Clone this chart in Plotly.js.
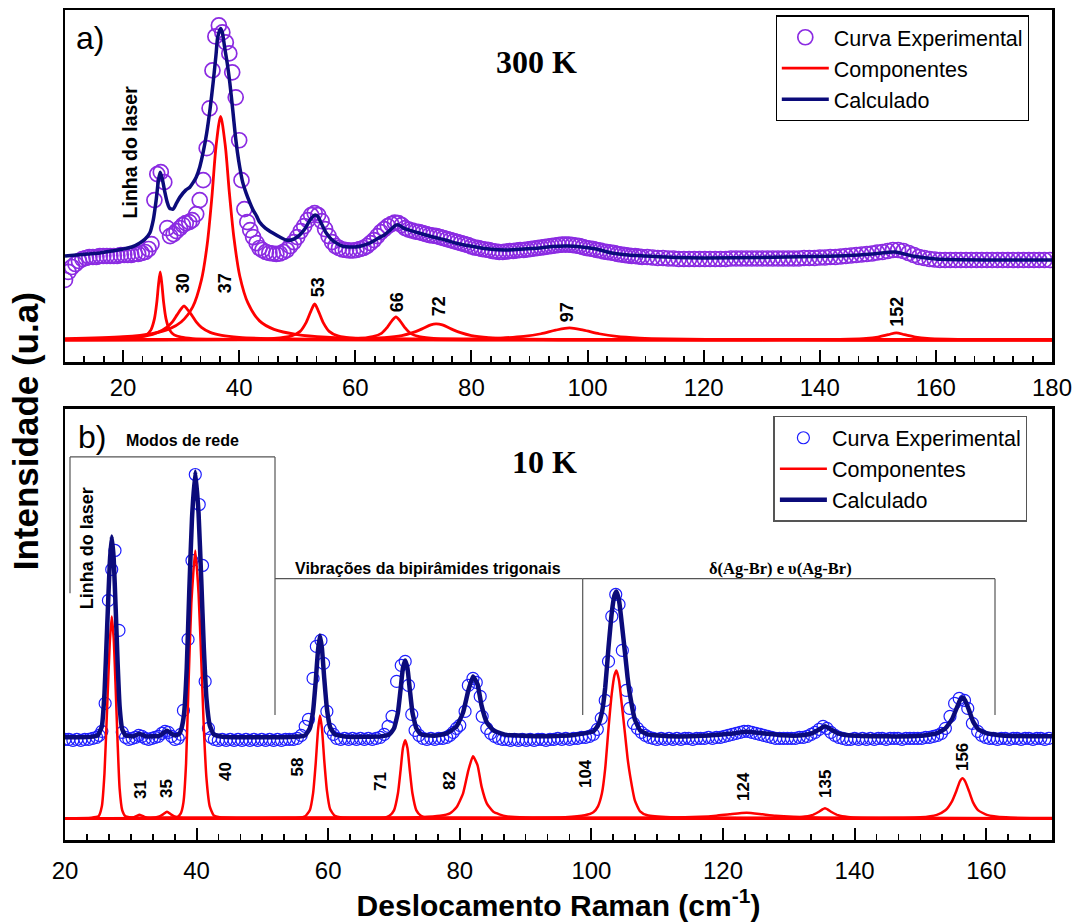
<!DOCTYPE html>
<html>
<head>
<meta charset="utf-8">
<script src="https://cdn.plot.ly/plotly-3.0.1.min.js"></script>
<style>html,body{margin:0;padding:0;background:#fff;}</style>
</head>
<body>
<div id="chart" style="width:1081px;height:922px;"></div>
<script>
// ---------------- DATA (arbitrary intensity units) ----------------
// (a) 300 K : experimental curve
const topExpX = [10.0,10.6,11.2,11.8,12.4,13.0,13.6,14.2,14.8,15.4,16.0,16.6,17.2,17.8,18.4,19.0,19.6,20.2,20.8,21.4,22.0,22.6,23.2,23.8,24.4,
 24.9,25.4,25.9,26.5,27.1,27.6,28.1,28.7,29.2,29.8,30.3,30.8,31.4,31.9,32.6,33.2,33.8,34.4,34.9,35.4,35.9,36.5,37.1,37.7,38.3,38.8,39.4,40.0,40.4,40.9,41.4,41.9,42.4,43.0,43.5,44.0,
 44.6,45.2,45.8,46.4,47.0,47.6,48.2,48.8,49.4,50.0,50.6,51.2,51.8,52.4,53.0,53.6,54.2,54.8,55.4,56.0,56.6,57.2,57.8,58.4,59.0,59.6,60.2,60.8,61.4,62.0,62.6,63.2,63.8,64.4,65.0,65.6,66.2,66.8,67.4,68.0,68.6,69.2,69.8,70.4,71.0,71.6,72.2,72.8,73.4,74.0,74.6,75.2,75.8,76.4,77.0,77.6,78.2,78.8,79.4,80.0,80.6,81.2,81.8,82.4,83.0,83.6,84.2,84.8,85.4,86.0,86.6,87.2,87.8,88.4,89.0,89.6,90.2,90.8,91.4,92.0,92.6,93.2,93.8,94.4,95.0,95.6,96.2,96.8,97.4,98.0,98.6,99.2,99.8,100.4,101.0,101.6,102.2,102.8,103.4,104.0,104.6,105.2,105.8,106.4,107.0,107.6,108.2,108.8,109.4,
 110.3,111.2,112.1,113.0,113.9,114.8,115.7,116.6,117.5,118.4,119.3,120.2,121.1,122.0,122.9,123.8,124.7,125.6,126.5,127.4,128.3,129.2,130.1,131.0,131.9,132.8,133.7,134.6,135.5,136.4,137.3,138.2,139.1,140.0,140.9,141.8,142.7,143.6,144.5,145.4,146.3,147.2,148.1,149.0,149.9,150.8,151.7,152.6,153.5,154.4,155.3,156.2,157.1,158.0,158.9,159.8,160.7,161.6,162.5,163.4,164.3,165.2,166.1,167.0,167.9,168.8,169.7,170.6,171.5,172.4,173.3,174.2,175.1,176.0,176.9,177.8,178.7,179.6];
const topExpY = [60,68,73,76,79,81,82,83,83,83,84,84,84,84,84,84,85,85,85,85,86,86,87,88,91,
 96,140,166,168,158,112,104,106,109,112,115,117,118,120,126,140,160,192,232,270,304,315,308,298,287,268,243,200,160,131,118,110,103,97,92,90,
 88,87,86.5,86,86.5,88,90,94,98,103,109,114,120,125,127,125,119,111,104,98,94,92,90.5,90,89.5,89.5,90,91,92,94,97,100,104,108,111,114,116,117.5,117,115,112,110.5,109.5,108.5,108,107,106,105,104.5,104,103,102,101,100,99,98,97,96,95,93.5,92.5,92,91,90.5,90,89,88.5,88,88,88.5,89,89,89.5,90,90,90.5,91,91.5,92,92.5,93,93.5,94,94.5,95,95.5,95.5,95.5,95,94.5,94,93,92,91.5,91,90,89.5,88.5,88,87.5,87,86,85.5,85,84.5,84,84,83.5,83,
 83,82.5,82,82,81.5,81.5,81,81,81,81,81,81,81,81,81,81,81.5,81.5,81.5,81.5,81.5,81.5,81.5,81.5,81.5,81.5,81.5,81.5,81.5,81.5,82,82,82,82.5,82.5,83,83,83.5,84,84.5,85,85.5,86,86.5,87.5,88,89,90,90,89,87,85,83,82,81,80.5,80,80,80,80,80,80,80,80,80,80,80,80,80,80,80,80,80,80,80,80,80,80];
// (a) 300 K : calculated curve
const topCalcX = [10,12,14,16,18,20,21.5,22.9,23.8,24.6,25.2,25.7,26.1,26.4,26.8,27.2,27.6,28.0,28.6,29.2,29.8,30.8,31.5,32.0,32.6,33.2,33.8,34.4,35.0,35.5,36.0,36.3,36.8,37.1,37.5,38.0,38.4,38.9,39.3,39.7,40.1,40.6,41.2,41.8,42.4,43.0,43.5,44.5,45.8,47.0,48.1,49.0,50.4,51.3,52.2,53.0,53.5,54.2,55.0,56.0,57.0,58.0,59.0,60.0,61.0,62.5,64.0,65.0,66.0,67.0,67.5,68.3,69.3,71.0,73.4,75.5,78.0,80.8,83.0,86.0,89.0,91.7,94.0,96.5,99.0,101.5,104.2,107,110,115,120,130,138.8,145,149,153,156,160,170,180];
const topCalcY = [84,85,86,87,89,91,93,97,101,107,120,140,160,168,160,148,138,132,131,137,143,150,153,157,163,173,188,207,232,257,285,303,312,308,293,275,257,230,207,188,173,158,147,138,130,124,118,112,107,103,100,100,105,111,120,125,124,116,107,100,96,93.5,93,93,94,97,102,105,110,115,115,112,110,107,103,100,96,93,91,90,91,92,93.5,94,93,91,87,85,84,82.5,82,82.5,83.5,84.5,86,88,84,81,80,80];
// (a) 300 K : fitted components (peak positions 26, 30, 37, 53, 66, 72, 97, 152 cm-1)
const topLaserX = [10,16,20,22.5,24,24.8,25.4,25.8,26.1,26.4,26.7,27.0,27.4,28.0,28.8,30,32,36,45,70,180];
const topLaserY = [0.2,0.6,1.3,2.6,5,10,21,37,55,68,55,37,21,10,5,2.6,1.3,0.6,0.2,0.05,0];
const top30X = [10,18,22,24,26,27.5,28.5,29.3,30,30.5,31,31.8,32.6,33.5,35,37,40,45,55,80,180];
const top30Y = [0.5,1.2,2.5,4,7.5,12.5,18,25,31,34,31,25,18,12.5,7.5,4.5,2.5,1.3,0.5,0.1,0];
const top37X = [10,20,25,28,30,32,33.5,34.5,35.3,36,36.8,37.6,38.3,39.1,40.1,41.5,43.5,46,50,55,65,80,180];
const top37Y = [1.2,3.1,6.3,11,17.8,33,60,96,143,193,224,195,148,102,64,37,19,10.5,5.3,2.7,1.1,0.5,0];
const top53X = [10,30,40,46,49,50.5,51.5,52.3,53,53.7,54.5,55.5,57,60,66,80,180];
const top53Y = [0.1,0.3,0.5,1.4,3.9,8.5,17,28,36,28,17,8.5,3.9,1.4,0.5,0.15,0];
const top66X = [10,40,55,60,63,64.5,65.5,66.3,67,67.7,68.5,69.5,71,74,80,95,180];
const top66Y = [0,0.2,0.6,1.1,3.2,6.5,12.5,19,23,19,12.5,6.5,3.2,1.1,0.4,0.1,0];
const top72X = [10,40,50,60,65,68,70,71.5,73,73.9,75,76.5,78,80,83,88,100,120,180];
const top72Y = [0.1,0.2,0.4,0.9,2.2,4.3,7.5,11,15,16,15,11,7.5,4.3,2.2,0.9,0.3,0.1,0];
const top97X = [10,50,70,80,85,89,92,94.5,96.9,99.3,102,105,109,114,125,145,180];
const top97Y = [0,0.15,0.4,1.0,1.8,3.4,6.1,9.7,12,9.7,6.1,3.4,1.8,1.0,0.35,0.1,0];
const top152X = [10,100,130,140,145,148,150,151.8,153.2,154.6,156.5,158.5,162,168,180];
const top152Y = [0,0.05,0.1,0.3,0.6,1.4,2.8,5.2,7,5.2,2.8,1.4,0.6,0.3,0.1];

// (b) 10 K : experimental curve
const botExpX = [20.0,20.6,21.2,21.8,22.4,23.0,23.6,24.2,24.8,25.2,25.6,26.1,26.6,27.1,27.6,28.2,28.7,29.2,29.7,30.2,30.7,31.2,31.7,32.2,32.7,33.2,33.7,34.2,34.7,35.2,35.7,36.2,36.7,37.2,37.6,38.0,38.7,39.3,39.8,40.4,40.9,41.3,41.8,42.2,42.7,43.3,43.9,44.5,45.1,45.7,46.3,46.9,47.5,48.1,48.7,49.3,49.9,50.5,51.1,51.7,52.3,52.9,53.5,54.1,54.7,55.3,55.9,56.5,57.0,57.7,58.2,58.9,59.3,59.8,60.3,60.8,61.3,61.9,62.5,63.1,63.7,64.3,64.9,65.5,66.1,66.7,67.3,67.9,68.5,69.1,69.7,70.4,71.1,71.7,72.2,72.7,73.2,73.8,74.4,75.0,75.6,76.2,76.8,77.4,78.0,78.5,79.0,79.5,80.0,80.8,81.3,82.0,82.5,83.1,83.4,84.1,84.7,85.3,85.9,86.5,87.1,87.7,88.3,88.9,89.5,90.1,90.7,91.3,91.9,92.5,93.1,93.7,94.3,94.9,95.5,96.1,96.7,97.3,97.9,98.5,99.1,99.7,100.3,100.9,101.5,102.1,102.6,103.1,103.7,104.2,104.7,105.3,105.8,106.4,107.0,107.6,108.2,108.8,109.4,110.0,110.6,111.2,111.8,112.4,113.0,113.6,114.2,114.8,115.4,116.0,116.6,117.2,117.8,118.4,119.0,119.6,120.2,120.8,121.4,122.0,122.6,123.2,123.8,124.4,125.0,125.6,126.2,126.8,127.4,128.0,128.6,129.2,129.8,130.4,131.0,131.6,132.2,132.8,133.4,134.0,134.6,135.2,135.8,136.4,137.0,137.6,138.2,138.8,139.4,140.0,140.6,141.2,141.8,142.4,143.0,143.6,144.2,144.8,145.4,146.0,146.6,147.2,147.8,148.4,149.0,149.6,150.2,150.8,151.4,152.0,152.6,153.2,153.8,154.5,155.2,155.9,156.7,157.2,157.9,158.7,159.3,159.9,160.5,161.1,161.7,162.3,162.9,163.5,164.1,164.7,165.3,165.9,166.5,167.1,167.7,168.3,168.9,169.5];
const botExpY = [79,79,78,79,78,79,79,80,81,83,87,115,218,249,268,188,86,81,79,80,81,83,82,80,79,80,81,82,85,87,86,82,79,80,84,108,179,258,344,314,253,137,90,81,79,78,79,78,79,78,79,78,79,78,79,78,79,78,79,78,79,78,79,79,79,80,83,92,99,140,172,178,155,107,89,84,80,79,80,79,80,79,80,79,80,79,80,81,84,92,102,137,153,157,133,104,88,83,80,79,80,79,80,80,81,83,86,90,93,107,133,140,136,122,102,90,85,82,80,79,79,78,79,78,79,78,79,78,79,79,78,79,79,80,79,80,79,80,80,81,81,82,84,89,100,118,157,202,224,214,168,128,110,95,90,86,83,81,80,79,80,79,80,79,80,79,80,80,79,80,80,80,81,80,81,81,82,83,84,85,86,87,87,86,85,84,83,82,81,80,80,80,80,80,80,81,81,82,84,86,89,92,90,86,83,81,80,79,79,80,79,80,79,80,79,80,80,79,80,80,80,79,80,80,80,80,80,81,81,82,83,85,90,102,115,120,118,110,95,87,83,81,80,80,79,80,80,79,80,80,79,80,80,79,80,80,79,80];
// (b) 10 K : calculated curve
const botCalcX = [20,24,25.0,25.6,26.0,26.4,26.8,27.1,27.4,27.7,28.0,28.3,28.7,29.2,30.3,31.3,32.3,34.3,35.5,36.6,37.3,37.7,38.1,38.5,38.9,39.3,39.8,40.3,40.7,41.1,41.5,42.0,42.6,44,50,55,56.5,57.2,57.7,58.1,58.45,58.75,59.05,59.4,59.8,60.3,61.0,63,68,69.3,70.0,70.6,71.0,71.35,71.7,72.05,72.4,72.8,73.4,74.1,76,78,79.5,80.5,81.3,82.0,82.7,83.3,84.1,85.1,87,92,97,100.3,101.0,101.6,102.1,102.6,103.1,103.5,103.8,104.2,104.6,105.1,105.5,105.9,106.6,107.4,108.5,112,117,121,123.6,126,129,132,133.5,134.5,135.5,136.5,137.5,139,145,150,152.5,153.8,154.8,155.5,156.0,156.4,156.8,157.4,158.0,158.8,160.1,163,170];
const botCalcY = [81,81.5,83,92,125,190,255,282,260,210,155,112,89,83,82,84.5,82,82.5,87.5,83,84,90,105,150,230,300,347,305,240,170,120,93,84,81.5,81,81.5,83,90,107,137,168,183,170,140,110,91,84,81.5,82,84,90,106,129,150,158,150,129,106,90,84,82.5,85,92,106,128,142,134,113,96,88,83.5,82,83,87,93,106,131,171,206,223,227,218,196,166,141,122,99,88,84,82,82.5,84.5,86.5,85,83,83,85,88.5,92,88.5,85,83,82,82.5,85,90,99,110,118,121,118,108,97,89,85,82.5,82];
// (b) 10 K : fitted components (27, 31, 35, 40, 58, 71, 82, 104, 124, 135, 156 cm-1)
const botLaserX = [20,24,25.1,25.6,26.0,26.4,26.8,27.1,27.4,27.7,28.0,28.3,28.7,29.2,31,170];
const botLaserY = [0,0.5,2,12,45,110,175,202,180,130,75,30,8,2,0.5,0];
const bot31X = [20,29.5,30.5,31.0,31.3,31.7,32.2,33,170];
const bot31Y = [0,0.3,1.2,2.6,3.5,2.6,1.1,0.3,0];
const bot35X = [20,33,34.2,34.9,35.5,36.1,36.8,38,170];
const bot35Y = [0,0.3,1.5,4,6.6,4,1.5,0.3,0];
const bot40X = [20,36,37.0,37.6,38.0,38.4,38.8,39.2,39.8,40.3,40.7,41.1,41.5,42.0,42.6,43.5,46,170];
const bot40Y = [0,0.5,1,5,16,55,140,215,268,225,160,90,40,12,3,1,0.3,0];
const bot58X = [20,54,55.5,56.5,57.2,57.7,58.1,58.45,58.75,59.05,59.4,59.8,60.3,61.0,62,64,170];
const bot58Y = [0,0.2,0.5,2,8,25,55,88,103,90,58,28,9,2.5,0.7,0.2,0];
const bot71X = [20,66,68.5,69.3,70.0,70.6,71.0,71.35,71.7,72.05,72.4,72.8,73.4,74.1,75,77,170];
const bot71Y = [0,0.2,0.5,2.5,8,25,48,70,78,70,48,25,8,2.5,0.6,0.2,0];
const bot82X = [20,70,74,77,78.5,79.5,80.5,81.3,82.0,82.7,83.3,84.1,85.1,87,90,95,170];
const bot82Y = [0,0.3,1,2.5,5,11,25,48,62,53,32,15,6.5,2,0.7,0.3,0];
const bot104X = [20,90,96,99,100.3,101.0,101.6,102.1,102.6,103.1,103.5,103.8,104.2,104.6,105.1,105.5,105.9,106.6,107.4,108.5,112,120,170];
const bot104Y = [0,0.4,1,3,6,12,25,50,90,125,143,148,138,115,85,60,42,18,7,3,1,0.3,0];
const bot124X = [20,105,112,116.5,119,121,123.6,126,128,130.7,135,145,170];
const bot124Y = [0,0.2,0.6,1.5,2.6,4,5.6,4,2.6,1.5,0.6,0.2,0];
const bot135X = [20,125,130,132,133.5,134.5,135.5,136.5,137.5,139,141,146,170];
const bot135Y = [0,0.2,0.5,1.2,3,6.3,10,6.3,3,1.2,0.5,0.2,0];
const bot156X = [20,140,150,152.5,153.8,154.8,155.5,156.0,156.4,156.8,157.4,158.0,158.8,160.1,163,170];
const bot156Y = [0,0.3,1,3.5,8,17,28,37,40,37,27,16,8,3.5,1,0.3];

// labels
const legendNames = ['Curva Experimental', 'Componentes', 'Calculado'];
const topPeakLabels = ['30','37','53','66','72','97','152'];
const botPeakLabels = ['31','35','40','58','71','82','104','124','135','156'];
const xTickVals = [20,40,60,80,100,120,140,160,180];

// ---------------- STYLE / LAYOUT ----------------
const SANS = "'Liberation Sans', Arial, sans-serif";
const SERIF = "'Liberation Serif', 'Times New Roman', serif";
const L = 65, R = 1052, T = 9.5, B = 840;
const px = x => (x - L) / (R - L);
const py = y => (B - y) / (B - T);

const topComps = [[topLaserX,topLaserY],[top30X,top30Y],[top37X,top37Y],[top53X,top53Y],[top66X,top66Y],[top72X,top72Y],[top97X,top97Y],[top152X,top152Y]];
const botComps = [[botLaserX,botLaserY],[bot31X,bot31Y],[bot35X,bot35Y],[bot40X,bot40Y],[bot58X,bot58Y],[bot71X,bot71Y],[bot82X,bot82Y],[bot104X,bot104Y],[bot124X,bot124Y],[bot135X,bot135Y],[bot156X,bot156Y]];

const traces = [];
traces.push({x: topExpX, y: topExpY, xaxis:'x', yaxis:'y', legend:'legend', name: legendNames[0], mode:'markers', type:'scatter',
  marker:{symbol:'circle-open', size:15, color:'#8B2BE2', line:{width:1.7, color:'#8B2BE2'}}});
topComps.forEach((c,i) => traces.push({x:c[0], y:c[1], xaxis:'x', yaxis:'y', legend:'legend', name: legendNames[1], showlegend: i===0,
  mode:'lines', type:'scatter', line:{color:'#FF0000', width:2.8, shape:'spline', smoothing:0.8}}));
traces.push({x: topCalcX, y: topCalcY, xaxis:'x', yaxis:'y', legend:'legend', name: legendNames[2], mode:'lines', type:'scatter',
  line:{color:'#0B0B7A', width:3.5, shape:'spline', smoothing:0.7}});

traces.push({x: botExpX, y: botExpY, xaxis:'x2', yaxis:'y2', legend:'legend2', name: legendNames[0], mode:'markers', type:'scatter',
  marker:{symbol:'circle-open', size:12, color:'#1E1EFF', line:{width:1.2, color:'#1E1EFF'}}});
botComps.forEach((c,i) => traces.push({x:c[0], y:c[1], xaxis:'x2', yaxis:'y2', legend:'legend2', name: legendNames[1], showlegend: i===0,
  mode:'lines', type:'scatter', line:{color:'#FF0000', width:2.5, shape:'spline', smoothing:0.5}}));
traces.push({x: botCalcX, y: botCalcY, xaxis:'x2', yaxis:'y2', legend:'legend2', name: legendNames[2], mode:'lines', type:'scatter',
  line:{color:'#0B0B7A', width:4.5, shape:'spline', smoothing:0.4}});

const xAxisStyle = {
  showgrid:false, zeroline:false, showline:true, linecolor:'#000', linewidth:2.5, mirror:true,
  ticks:'inside', ticklen:12, tickwidth:2, tickcolor:'#000', tickvals: xTickVals,
  minor:{dtick:20/6, tick0:0, ticks:'inside', ticklen:6, tickwidth:1.8, tickcolor:'#000'},
  tickfont:{family:SANS, size:24, color:'#000'}
};
const yAxisStyle = {showgrid:false, zeroline:false, showline:true, linecolor:'#000', linewidth:2.5, mirror:true,
  ticks:'', showticklabels:false};

const ann = [];
function addText(text, x, y, size, opts) {
  ann.push(Object.assign({text:text, x:px(x), y:py(y), xref:'paper', yref:'paper', showarrow:false,
    xanchor:'center', yanchor:'middle', font:{family:SANS, size:size, color:'#000'}}, opts || {}));
}
addText('a)', 90, 38, 32);
addText('<b>300 K</b>', 536, 62, 32, {font:{family:SERIF, size:32, color:'#000'}});
addText('<b>Linha do laser</b>', 130, 152, 19.5, {textangle:-90});
const topLabelPos = [[183,283],[225,283],[318,287],[397,302],[439,306],[567,312],[897.5,312]];
topPeakLabels.forEach((t,i) => addText('<b>'+t+'</b>', topLabelPos[i][0], topLabelPos[i][1], 18, {textangle:-90}));

addText('b)', 92, 437, 32);
addText('<b>10 K</b>', 544, 462, 32, {font:{family:SERIF, size:32, color:'#000'}});
addText('<b>Modos de rede</b>', 182.5, 440, 16);
addText('<b>Vibrações da bipirâmides trigonais</b>', 428, 568, 16);
addText('<b>δ(Ag-Br) e υ(Ag-Br)</b>', 780.5, 568, 16.5, {font:{family:SERIF, size:16.5, color:'#000'}});
addText('<b>Linha do laser</b>', 87, 548, 18, {textangle:-90});
const botLabelPos = [[140,790],[166,789],[225,772],[297.5,767],[380,782],[449,781],[585,774],[743,787],[825,784],[962,757]];
botPeakLabels.forEach((t,i) => addText('<b>'+t+'</b>', botLabelPos[i][0], botLabelPos[i][1], 17, {textangle:-90}));

addText('<b>Intensidade (u.a)</b>', 25, 431, 35, {textangle:-90});

const brackets = [
  [70,456.7,275,456.7],[70,456.7,70,593],[275,456.7,275,715],
  [275,578.5,582.7,578.5],[582.7,578.5,582.7,715],
  [582.7,578.5,995,578.5],[995,578.5,995,715]
];
const shapes = brackets.map(b => ({type:'line', xref:'paper', yref:'paper', x0:px(b[0]), y0:py(b[1]), x1:px(b[2]), y1:py(b[3]),
  line:{color:'#555', width:1.2}}));

const layout = {
  width:1081, height:922, paper_bgcolor:'#fff', plot_bgcolor:'#fff',
  margin:{l:L, r:1081-R, t:T, b:922-B, pad:0},
  font:{family:SANS, color:'#000'},
  xaxis: Object.assign({}, xAxisStyle, {domain:[0,1], anchor:'y', range:[10,180], ticklabelstandoff:2}),
  yaxis: Object.assign({}, yAxisStyle, {domain:[py(362),1], anchor:'x', range:[-22.5,330.5]}),
  xaxis2: Object.assign({}, xAxisStyle, {domain:[0,1], anchor:'y2', range:[20,170], ticklabelstandoff:8,
    title:{text:'<b>Deslocamento Raman (cm<sup>-1</sup>)</b>', font:{family:SANS, size:30, color:'#000'}, standoff:8}}),
  yaxis2: Object.assign({}, yAxisStyle, {domain:[0,py(408.3)], anchor:'x2', range:[-21.7,410]}),
  legend:{x:px(775.5), y:py(15), xanchor:'left', yanchor:'top', bgcolor:'#fff', bordercolor:'#000', borderwidth:1.3,
    font:{family:SANS, size:21.5, color:'#000'}, itemwidth:47, tracegroupgap:0},
  legend2:{x:px(773.4), y:py(415.5), xanchor:'left', yanchor:'top', bgcolor:'#fff', bordercolor:'#555', borderwidth:1.5,
    font:{family:SANS, size:21.5, color:'#000'}, itemwidth:47, tracegroupgap:0},
  annotations: ann, shapes: shapes, showlegend:true
};
Plotly.newPlot('chart', traces, layout, {displayModeBar:false, staticPlot:true});
</script>
</body>
</html>
